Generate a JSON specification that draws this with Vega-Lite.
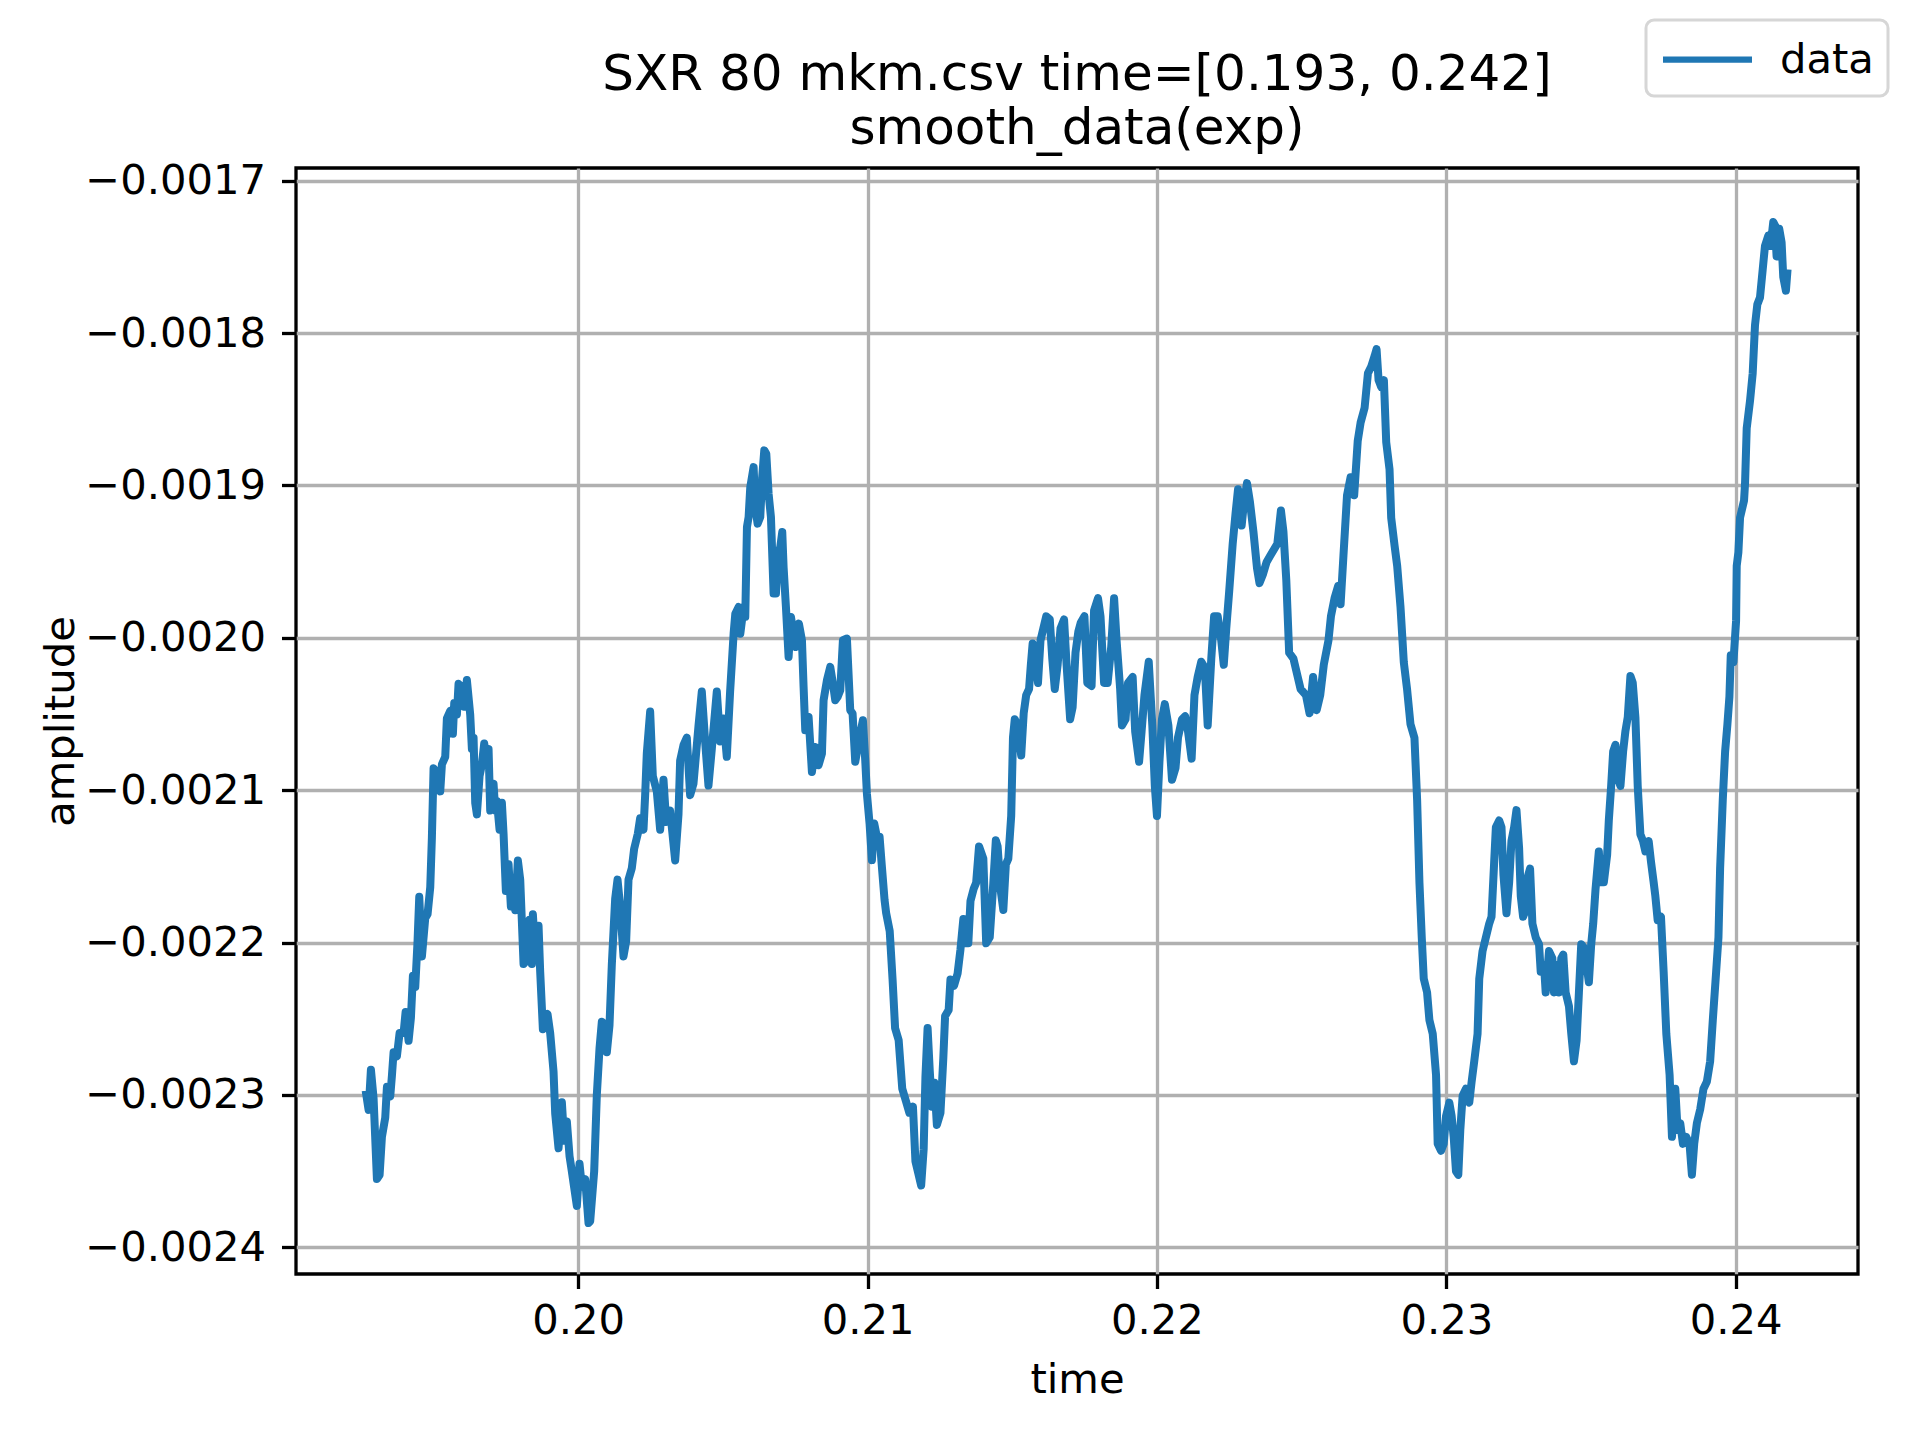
{
  "$schema": "https://vega.github.io/schema/vega-lite/v6.json",
  "autosize": "none",
  "padding": {"left": 296, "top": 168, "right": 53, "bottom": 156},
  "width": 1562,
  "height": 1106,
  "background": "white",
  "title": {
    "text": ["SXR 80 mkm.csv time=[0.193, 0.242]", "smooth_data(exp)"],
    "fontSize": 50,
    "fontWeight": "normal",
    "font": "DejaVu Sans",
    "color": "black",
    "anchor": "middle",
    "lineHeight": 54.4,
    "baseline": "top",
    "offset": 6,
    "dy": 142
  },
  "config": {
    "font": "DejaVu Sans",
    "view": {"stroke": "black", "strokeWidth": 3.3},
    "legend": {"strokeWidth": 3},
    "axis": {
      "domain": false,
      "grid": true,
      "gridColor": "#b0b0b0",
      "gridWidth": 3.3,
      "gridOpacity": 1,
      "tickColor": "black",
      "tickWidth": 3.3,
      "tickSize": 14.5,
      "labelFont": "DejaVu Sans",
      "labelFontSize": 41.7,
      "labelColor": "black",
      "labelLimit": 0,
      "titleFont": "DejaVu Sans",
      "titleFontSize": 41.7,
      "titleFontWeight": "normal",
      "titleColor": "black"
    }
  },
  "data": {
    "values": [
      {"time": 0.192677, "amplitude": -0.0022997},
      {"time": 0.192758, "amplitude": -0.0023098},
      {"time": 0.192838, "amplitude": -0.0022834},
      {"time": 0.192930, "amplitude": -0.0023023},
      {"time": 0.193045, "amplitude": -0.0023552},
      {"time": 0.193138, "amplitude": -0.0023526},
      {"time": 0.193218, "amplitude": -0.0023275},
      {"time": 0.193333, "amplitude": -0.0023149},
      {"time": 0.193391, "amplitude": -0.0022947},
      {"time": 0.193506, "amplitude": -0.0023010},
      {"time": 0.193564, "amplitude": -0.0022872},
      {"time": 0.193621, "amplitude": -0.0022720},
      {"time": 0.193736, "amplitude": -0.0022746},
      {"time": 0.193828, "amplitude": -0.0022594},
      {"time": 0.193967, "amplitude": -0.0022594},
      {"time": 0.194036, "amplitude": -0.0022456},
      {"time": 0.194139, "amplitude": -0.0022645},
      {"time": 0.194220, "amplitude": -0.0022494},
      {"time": 0.194289, "amplitude": -0.0022217},
      {"time": 0.194370, "amplitude": -0.0022292},
      {"time": 0.194450, "amplitude": -0.0021990},
      {"time": 0.194508, "amplitude": -0.0021700},
      {"time": 0.194600, "amplitude": -0.0022091},
      {"time": 0.194715, "amplitude": -0.0021839},
      {"time": 0.194796, "amplitude": -0.0021814},
      {"time": 0.194888, "amplitude": -0.0021637},
      {"time": 0.194945, "amplitude": -0.0021310},
      {"time": 0.195003, "amplitude": -0.0020856},
      {"time": 0.195118, "amplitude": -0.0020882},
      {"time": 0.195233, "amplitude": -0.0021008},
      {"time": 0.195291, "amplitude": -0.0020831},
      {"time": 0.195406, "amplitude": -0.0020781},
      {"time": 0.195463, "amplitude": -0.0020529},
      {"time": 0.195579, "amplitude": -0.0020479},
      {"time": 0.195671, "amplitude": -0.0020630},
      {"time": 0.195717, "amplitude": -0.0020428},
      {"time": 0.195809, "amplitude": -0.0020504},
      {"time": 0.195866, "amplitude": -0.0020302},
      {"time": 0.195982, "amplitude": -0.0020327},
      {"time": 0.196062, "amplitude": -0.0020453},
      {"time": 0.196154, "amplitude": -0.0020277},
      {"time": 0.196269, "amplitude": -0.0020504},
      {"time": 0.196327, "amplitude": -0.0020730},
      {"time": 0.196385, "amplitude": -0.0020655},
      {"time": 0.196442, "amplitude": -0.0021083},
      {"time": 0.196500, "amplitude": -0.0021159},
      {"time": 0.196592, "amplitude": -0.0020907},
      {"time": 0.196672, "amplitude": -0.0020831},
      {"time": 0.196753, "amplitude": -0.0020693},
      {"time": 0.196845, "amplitude": -0.0020831},
      {"time": 0.196903, "amplitude": -0.0020730},
      {"time": 0.196960, "amplitude": -0.0021134},
      {"time": 0.197075, "amplitude": -0.0020957},
      {"time": 0.197133, "amplitude": -0.0021134},
      {"time": 0.197191, "amplitude": -0.0021071},
      {"time": 0.197283, "amplitude": -0.0021259},
      {"time": 0.197363, "amplitude": -0.0021083},
      {"time": 0.197421, "amplitude": -0.0021285},
      {"time": 0.197501, "amplitude": -0.0021662},
      {"time": 0.197594, "amplitude": -0.0021486},
      {"time": 0.197674, "amplitude": -0.0021763},
      {"time": 0.197766, "amplitude": -0.0021662},
      {"time": 0.197824, "amplitude": -0.0021788},
      {"time": 0.197916, "amplitude": -0.0021461},
      {"time": 0.197997, "amplitude": -0.0021587},
      {"time": 0.198112, "amplitude": -0.0022141},
      {"time": 0.198227, "amplitude": -0.0022116},
      {"time": 0.198319, "amplitude": -0.0021851},
      {"time": 0.198400, "amplitude": -0.0022141},
      {"time": 0.198434, "amplitude": -0.0021814},
      {"time": 0.198515, "amplitude": -0.0022066},
      {"time": 0.198595, "amplitude": -0.0021965},
      {"time": 0.198630, "amplitude": -0.0021889},
      {"time": 0.198687, "amplitude": -0.0022191},
      {"time": 0.198780, "amplitude": -0.0022569},
      {"time": 0.198860, "amplitude": -0.0022494},
      {"time": 0.198941, "amplitude": -0.0022469},
      {"time": 0.199033, "amplitude": -0.0022594},
      {"time": 0.199148, "amplitude": -0.0022846},
      {"time": 0.199206, "amplitude": -0.0023123},
      {"time": 0.199321, "amplitude": -0.0023350},
      {"time": 0.199436, "amplitude": -0.0023048},
      {"time": 0.199516, "amplitude": -0.0023300},
      {"time": 0.199609, "amplitude": -0.0023174},
      {"time": 0.199701, "amplitude": -0.0023401},
      {"time": 0.199781, "amplitude": -0.0023501},
      {"time": 0.199954, "amplitude": -0.0023728},
      {"time": 0.200046, "amplitude": -0.0023451},
      {"time": 0.200127, "amplitude": -0.0023602},
      {"time": 0.200242, "amplitude": -0.0023552},
      {"time": 0.200357, "amplitude": -0.0023841},
      {"time": 0.200415, "amplitude": -0.0023829},
      {"time": 0.200553, "amplitude": -0.0023501},
      {"time": 0.200645, "amplitude": -0.0022997},
      {"time": 0.200737, "amplitude": -0.0022695},
      {"time": 0.200818, "amplitude": -0.0022519},
      {"time": 0.200933, "amplitude": -0.0022544},
      {"time": 0.200990, "amplitude": -0.0022720},
      {"time": 0.201082, "amplitude": -0.0022544},
      {"time": 0.201163, "amplitude": -0.0022141},
      {"time": 0.201278, "amplitude": -0.0021713},
      {"time": 0.201359, "amplitude": -0.0021587},
      {"time": 0.201451, "amplitude": -0.0021763},
      {"time": 0.201566, "amplitude": -0.0022091},
      {"time": 0.201658, "amplitude": -0.0021990},
      {"time": 0.201739, "amplitude": -0.0021587},
      {"time": 0.201854, "amplitude": -0.0021511},
      {"time": 0.201934, "amplitude": -0.0021385},
      {"time": 0.202061, "amplitude": -0.0021285},
      {"time": 0.202142, "amplitude": -0.0021184},
      {"time": 0.202257, "amplitude": -0.0021259},
      {"time": 0.202314, "amplitude": -0.0021033},
      {"time": 0.202372, "amplitude": -0.0020756},
      {"time": 0.202487, "amplitude": -0.0020484},
      {"time": 0.202579, "amplitude": -0.0020907},
      {"time": 0.202717, "amplitude": -0.0021008},
      {"time": 0.202832, "amplitude": -0.0021259},
      {"time": 0.202948, "amplitude": -0.0020932},
      {"time": 0.203040, "amplitude": -0.0021209},
      {"time": 0.203178, "amplitude": -0.0021134},
      {"time": 0.203351, "amplitude": -0.0021461},
      {"time": 0.203466, "amplitude": -0.0021159},
      {"time": 0.203523, "amplitude": -0.0020806},
      {"time": 0.203638, "amplitude": -0.0020705},
      {"time": 0.203754, "amplitude": -0.0020655},
      {"time": 0.203869, "amplitude": -0.0021033},
      {"time": 0.203984, "amplitude": -0.0020957},
      {"time": 0.204157, "amplitude": -0.0020579},
      {"time": 0.204272, "amplitude": -0.0020353},
      {"time": 0.204387, "amplitude": -0.0020680},
      {"time": 0.204502, "amplitude": -0.0020970},
      {"time": 0.204617, "amplitude": -0.0020730},
      {"time": 0.204790, "amplitude": -0.0020353},
      {"time": 0.204905, "amplitude": -0.0020680},
      {"time": 0.205020, "amplitude": -0.0020529},
      {"time": 0.205135, "amplitude": -0.0020781},
      {"time": 0.205250, "amplitude": -0.0020353},
      {"time": 0.205371, "amplitude": -0.0019973},
      {"time": 0.205429, "amplitude": -0.0019842},
      {"time": 0.205544, "amplitude": -0.0019798},
      {"time": 0.205602, "amplitude": -0.0019973},
      {"time": 0.205717, "amplitude": -0.0019798},
      {"time": 0.205774, "amplitude": -0.0019863},
      {"time": 0.205832, "amplitude": -0.0019273},
      {"time": 0.205889, "amplitude": -0.0019208},
      {"time": 0.205947, "amplitude": -0.0019011},
      {"time": 0.206062, "amplitude": -0.0018880},
      {"time": 0.206120, "amplitude": -0.0019142},
      {"time": 0.206200, "amplitude": -0.0019251},
      {"time": 0.206292, "amplitude": -0.0019208},
      {"time": 0.206350, "amplitude": -0.0018967},
      {"time": 0.206431, "amplitude": -0.0018770},
      {"time": 0.206500, "amplitude": -0.0018792},
      {"time": 0.206580, "amplitude": -0.0019055},
      {"time": 0.206661, "amplitude": -0.0019208},
      {"time": 0.206753, "amplitude": -0.0019710},
      {"time": 0.206834, "amplitude": -0.0019710},
      {"time": 0.206903, "amplitude": -0.0019448},
      {"time": 0.206983, "amplitude": -0.0019404},
      {"time": 0.207052, "amplitude": -0.0019306},
      {"time": 0.207098, "amplitude": -0.0019536},
      {"time": 0.207179, "amplitude": -0.0019798},
      {"time": 0.207271, "amplitude": -0.0020126},
      {"time": 0.207352, "amplitude": -0.0019863},
      {"time": 0.207444, "amplitude": -0.0019973},
      {"time": 0.207524, "amplitude": -0.0020060},
      {"time": 0.207628, "amplitude": -0.0019907},
      {"time": 0.207732, "amplitude": -0.0020016},
      {"time": 0.207789, "amplitude": -0.0020322},
      {"time": 0.207847, "amplitude": -0.0020607},
      {"time": 0.207962, "amplitude": -0.0020519},
      {"time": 0.208077, "amplitude": -0.0020880},
      {"time": 0.208192, "amplitude": -0.0020716},
      {"time": 0.208307, "amplitude": -0.0020836},
      {"time": 0.208423, "amplitude": -0.0020760},
      {"time": 0.208480, "amplitude": -0.0020410},
      {"time": 0.208595, "amplitude": -0.0020279},
      {"time": 0.208710, "amplitude": -0.0020191},
      {"time": 0.208803, "amplitude": -0.0020301},
      {"time": 0.208883, "amplitude": -0.0020410},
      {"time": 0.208964, "amplitude": -0.0020388},
      {"time": 0.209056, "amplitude": -0.0020344},
      {"time": 0.209148, "amplitude": -0.0020016},
      {"time": 0.209286, "amplitude": -0.0020005},
      {"time": 0.209401, "amplitude": -0.0020475},
      {"time": 0.209482, "amplitude": -0.0020497},
      {"time": 0.209574, "amplitude": -0.0020814},
      {"time": 0.209666, "amplitude": -0.0020716},
      {"time": 0.209747, "amplitude": -0.0020628},
      {"time": 0.209839, "amplitude": -0.0020541},
      {"time": 0.209919, "amplitude": -0.0020803},
      {"time": 0.209977, "amplitude": -0.0021022},
      {"time": 0.210069, "amplitude": -0.0021219},
      {"time": 0.210150, "amplitude": -0.0021459},
      {"time": 0.210230, "amplitude": -0.0021219},
      {"time": 0.210322, "amplitude": -0.0021306},
      {"time": 0.210415, "amplitude": -0.0021306},
      {"time": 0.210495, "amplitude": -0.0021503},
      {"time": 0.210587, "amplitude": -0.0021721},
      {"time": 0.210642, "amplitude": -0.0021806},
      {"time": 0.210765, "amplitude": -0.0021925},
      {"time": 0.210864, "amplitude": -0.0022243},
      {"time": 0.210951, "amplitude": -0.0022561},
      {"time": 0.211074, "amplitude": -0.0022640},
      {"time": 0.211198, "amplitude": -0.0022958},
      {"time": 0.211321, "amplitude": -0.0023038},
      {"time": 0.211444, "amplitude": -0.0023117},
      {"time": 0.211568, "amplitude": -0.0023077},
      {"time": 0.211654, "amplitude": -0.0023435},
      {"time": 0.211753, "amplitude": -0.0023515},
      {"time": 0.211852, "amplitude": -0.0023594},
      {"time": 0.211938, "amplitude": -0.0023356},
      {"time": 0.212000, "amplitude": -0.0022879},
      {"time": 0.212074, "amplitude": -0.0022561},
      {"time": 0.212148, "amplitude": -0.0022839},
      {"time": 0.212222, "amplitude": -0.0023077},
      {"time": 0.212309, "amplitude": -0.0022919},
      {"time": 0.212395, "amplitude": -0.0023197},
      {"time": 0.212519, "amplitude": -0.0023117},
      {"time": 0.212617, "amplitude": -0.0022760},
      {"time": 0.212679, "amplitude": -0.0022482},
      {"time": 0.212802, "amplitude": -0.0022442},
      {"time": 0.212864, "amplitude": -0.0022243},
      {"time": 0.212988, "amplitude": -0.0022283},
      {"time": 0.213111, "amplitude": -0.0022203},
      {"time": 0.213210, "amplitude": -0.0022045},
      {"time": 0.213309, "amplitude": -0.0021846},
      {"time": 0.213383, "amplitude": -0.0022005},
      {"time": 0.213481, "amplitude": -0.0022005},
      {"time": 0.213556, "amplitude": -0.0021727},
      {"time": 0.213667, "amplitude": -0.0021647},
      {"time": 0.213753, "amplitude": -0.0021607},
      {"time": 0.213852, "amplitude": -0.0021369},
      {"time": 0.214000, "amplitude": -0.0021449},
      {"time": 0.214099, "amplitude": -0.0022005},
      {"time": 0.214222, "amplitude": -0.0021965},
      {"time": 0.214346, "amplitude": -0.0021607},
      {"time": 0.214432, "amplitude": -0.0021329},
      {"time": 0.214494, "amplitude": -0.0021369},
      {"time": 0.214593, "amplitude": -0.0021647},
      {"time": 0.214691, "amplitude": -0.0021786},
      {"time": 0.214778, "amplitude": -0.0021488},
      {"time": 0.214864, "amplitude": -0.0021449},
      {"time": 0.214963, "amplitude": -0.0021170},
      {"time": 0.215025, "amplitude": -0.0020654},
      {"time": 0.215086, "amplitude": -0.0020535},
      {"time": 0.215185, "amplitude": -0.0020575},
      {"time": 0.215309, "amplitude": -0.0020773},
      {"time": 0.215395, "amplitude": -0.0020495},
      {"time": 0.215481, "amplitude": -0.0020376},
      {"time": 0.215580, "amplitude": -0.0020336},
      {"time": 0.215642, "amplitude": -0.0020177},
      {"time": 0.215704, "amplitude": -0.0020038},
      {"time": 0.215802, "amplitude": -0.0020137},
      {"time": 0.215889, "amplitude": -0.0020296},
      {"time": 0.215975, "amplitude": -0.0020018},
      {"time": 0.216074, "amplitude": -0.0019939},
      {"time": 0.216173, "amplitude": -0.0019859},
      {"time": 0.216296, "amplitude": -0.0019879},
      {"time": 0.216383, "amplitude": -0.0020137},
      {"time": 0.216469, "amplitude": -0.0020336},
      {"time": 0.216568, "amplitude": -0.0020177},
      {"time": 0.216667, "amplitude": -0.0019939},
      {"time": 0.216790, "amplitude": -0.0019879},
      {"time": 0.216877, "amplitude": -0.0020177},
      {"time": 0.217000, "amplitude": -0.0020535},
      {"time": 0.217086, "amplitude": -0.0020455},
      {"time": 0.217185, "amplitude": -0.0020098},
      {"time": 0.217284, "amplitude": -0.0019959},
      {"time": 0.217370, "amplitude": -0.0019899},
      {"time": 0.217494, "amplitude": -0.0019859},
      {"time": 0.217593, "amplitude": -0.0020296},
      {"time": 0.217741, "amplitude": -0.0020316},
      {"time": 0.217827, "amplitude": -0.0019820},
      {"time": 0.217963, "amplitude": -0.0019740},
      {"time": 0.218049, "amplitude": -0.0019859},
      {"time": 0.218173, "amplitude": -0.0020296},
      {"time": 0.218296, "amplitude": -0.0020296},
      {"time": 0.218420, "amplitude": -0.0020058},
      {"time": 0.218519, "amplitude": -0.0019740},
      {"time": 0.218605, "amplitude": -0.0020018},
      {"time": 0.218728, "amplitude": -0.0020336},
      {"time": 0.218790, "amplitude": -0.0020575},
      {"time": 0.218914, "amplitude": -0.0020535},
      {"time": 0.219000, "amplitude": -0.0020296},
      {"time": 0.219160, "amplitude": -0.0020257},
      {"time": 0.219247, "amplitude": -0.0020614},
      {"time": 0.219383, "amplitude": -0.0020813},
      {"time": 0.219469, "amplitude": -0.0020614},
      {"time": 0.219568, "amplitude": -0.0020376},
      {"time": 0.219716, "amplitude": -0.0020157},
      {"time": 0.219840, "amplitude": -0.0020575},
      {"time": 0.219926, "amplitude": -0.0020972},
      {"time": 0.220000, "amplitude": -0.0021170},
      {"time": 0.220086, "amplitude": -0.0020813},
      {"time": 0.220173, "amplitude": -0.0020535},
      {"time": 0.220272, "amplitude": -0.0020435},
      {"time": 0.220395, "amplitude": -0.0020575},
      {"time": 0.220519, "amplitude": -0.0020932},
      {"time": 0.220642, "amplitude": -0.0020853},
      {"time": 0.220728, "amplitude": -0.0020654},
      {"time": 0.220864, "amplitude": -0.0020535},
      {"time": 0.220975, "amplitude": -0.0020515},
      {"time": 0.221074, "amplitude": -0.0020614},
      {"time": 0.221198, "amplitude": -0.0020793},
      {"time": 0.221296, "amplitude": -0.0020376},
      {"time": 0.221407, "amplitude": -0.0020257},
      {"time": 0.221531, "amplitude": -0.0020157},
      {"time": 0.221654, "amplitude": -0.0020197},
      {"time": 0.221753, "amplitude": -0.0020575},
      {"time": 0.221877, "amplitude": -0.0020137},
      {"time": 0.221975, "amplitude": -0.0019859},
      {"time": 0.222099, "amplitude": -0.0019859},
      {"time": 0.222222, "amplitude": -0.0020018},
      {"time": 0.222309, "amplitude": -0.0020177},
      {"time": 0.222395, "amplitude": -0.0019939},
      {"time": 0.222494, "amplitude": -0.0019700},
      {"time": 0.222617, "amplitude": -0.0019383},
      {"time": 0.222716, "amplitude": -0.0019184},
      {"time": 0.222802, "amplitude": -0.0019025},
      {"time": 0.222926, "amplitude": -0.0019263},
      {"time": 0.223012, "amplitude": -0.0019104},
      {"time": 0.223111, "amplitude": -0.0018985},
      {"time": 0.223210, "amplitude": -0.0019104},
      {"time": 0.223333, "amplitude": -0.0019303},
      {"time": 0.223457, "amplitude": -0.0019542},
      {"time": 0.223543, "amplitude": -0.0019641},
      {"time": 0.223667, "amplitude": -0.0019581},
      {"time": 0.223790, "amplitude": -0.0019502},
      {"time": 0.223914, "amplitude": -0.0019462},
      {"time": 0.224037, "amplitude": -0.0019422},
      {"time": 0.224160, "amplitude": -0.0019383},
      {"time": 0.224284, "amplitude": -0.0019164},
      {"time": 0.224370, "amplitude": -0.0019303},
      {"time": 0.224469, "amplitude": -0.0019621},
      {"time": 0.224568, "amplitude": -0.0020098},
      {"time": 0.224716, "amplitude": -0.0020137},
      {"time": 0.224864, "amplitude": -0.0020257},
      {"time": 0.224963, "amplitude": -0.0020336},
      {"time": 0.225148, "amplitude": -0.0020376},
      {"time": 0.225272, "amplitude": -0.0020495},
      {"time": 0.225395, "amplitude": -0.0020257},
      {"time": 0.225519, "amplitude": -0.0020475},
      {"time": 0.225642, "amplitude": -0.0020376},
      {"time": 0.225765, "amplitude": -0.0020177},
      {"time": 0.225926, "amplitude": -0.0020018},
      {"time": 0.226012, "amplitude": -0.0019859},
      {"time": 0.226136, "amplitude": -0.0019740},
      {"time": 0.226259, "amplitude": -0.0019661},
      {"time": 0.226346, "amplitude": -0.0019780},
      {"time": 0.226444, "amplitude": -0.0019462},
      {"time": 0.226568, "amplitude": -0.0019065},
      {"time": 0.226691, "amplitude": -0.0018946},
      {"time": 0.226815, "amplitude": -0.0019065},
      {"time": 0.226938, "amplitude": -0.0018707},
      {"time": 0.227037, "amplitude": -0.0018588},
      {"time": 0.227176, "amplitude": -0.0018490},
      {"time": 0.227290, "amplitude": -0.0018264},
      {"time": 0.227405, "amplitude": -0.0018219},
      {"time": 0.227520, "amplitude": -0.0018151},
      {"time": 0.227589, "amplitude": -0.0018106},
      {"time": 0.227658, "amplitude": -0.0018309},
      {"time": 0.227750, "amplitude": -0.0018354},
      {"time": 0.227842, "amplitude": -0.0018309},
      {"time": 0.227922, "amplitude": -0.0018716},
      {"time": 0.228037, "amplitude": -0.0018896},
      {"time": 0.228094, "amplitude": -0.0019212},
      {"time": 0.228209, "amplitude": -0.0019393},
      {"time": 0.228301, "amplitude": -0.0019528},
      {"time": 0.228416, "amplitude": -0.0019799},
      {"time": 0.228530, "amplitude": -0.0020160},
      {"time": 0.228645, "amplitude": -0.0020341},
      {"time": 0.228760, "amplitude": -0.0020567},
      {"time": 0.228898, "amplitude": -0.0020657},
      {"time": 0.228990, "amplitude": -0.0021063},
      {"time": 0.229070, "amplitude": -0.0021605},
      {"time": 0.229150, "amplitude": -0.0021966},
      {"time": 0.229219, "amplitude": -0.0022237},
      {"time": 0.229334, "amplitude": -0.0022327},
      {"time": 0.229414, "amplitude": -0.0022508},
      {"time": 0.229529, "amplitude": -0.0022598},
      {"time": 0.229644, "amplitude": -0.0022869},
      {"time": 0.229701, "amplitude": -0.0023321},
      {"time": 0.229816, "amplitude": -0.0023366},
      {"time": 0.229908, "amplitude": -0.0023321},
      {"time": 0.229989, "amplitude": -0.0023140},
      {"time": 0.230103, "amplitude": -0.0023050},
      {"time": 0.230184, "amplitude": -0.0023140},
      {"time": 0.230253, "amplitude": -0.0023275},
      {"time": 0.230333, "amplitude": -0.0023501},
      {"time": 0.230413, "amplitude": -0.0023524},
      {"time": 0.230482, "amplitude": -0.0023230},
      {"time": 0.230563, "amplitude": -0.0023005},
      {"time": 0.230677, "amplitude": -0.0022959},
      {"time": 0.230792, "amplitude": -0.0023050},
      {"time": 0.230873, "amplitude": -0.0022914},
      {"time": 0.230964, "amplitude": -0.0022779},
      {"time": 0.231079, "amplitude": -0.0022598},
      {"time": 0.231137, "amplitude": -0.0022237},
      {"time": 0.231251, "amplitude": -0.0022056},
      {"time": 0.231366, "amplitude": -0.0021966},
      {"time": 0.231481, "amplitude": -0.0021876},
      {"time": 0.231561, "amplitude": -0.0021831},
      {"time": 0.231653, "amplitude": -0.0021470},
      {"time": 0.231711, "amplitude": -0.0021244},
      {"time": 0.231826, "amplitude": -0.0021199},
      {"time": 0.231906, "amplitude": -0.0021244},
      {"time": 0.231975, "amplitude": -0.0021560},
      {"time": 0.232078, "amplitude": -0.0021808},
      {"time": 0.232170, "amplitude": -0.0021605},
      {"time": 0.232250, "amplitude": -0.0021334},
      {"time": 0.232342, "amplitude": -0.0021244},
      {"time": 0.232423, "amplitude": -0.0021131},
      {"time": 0.232514, "amplitude": -0.0021379},
      {"time": 0.232572, "amplitude": -0.0021695},
      {"time": 0.232652, "amplitude": -0.0021831},
      {"time": 0.232744, "amplitude": -0.0021786},
      {"time": 0.232824, "amplitude": -0.0021560},
      {"time": 0.232893, "amplitude": -0.0021515},
      {"time": 0.232974, "amplitude": -0.0021876},
      {"time": 0.233088, "amplitude": -0.0021966},
      {"time": 0.233203, "amplitude": -0.0022011},
      {"time": 0.233261, "amplitude": -0.0022192},
      {"time": 0.233375, "amplitude": -0.0022147},
      {"time": 0.233433, "amplitude": -0.0022327},
      {"time": 0.233548, "amplitude": -0.0022056},
      {"time": 0.233662, "amplitude": -0.0022102},
      {"time": 0.233720, "amplitude": -0.0022327},
      {"time": 0.233812, "amplitude": -0.0022147},
      {"time": 0.233892, "amplitude": -0.0022327},
      {"time": 0.233972, "amplitude": -0.0022102},
      {"time": 0.234041, "amplitude": -0.0022079},
      {"time": 0.234122, "amplitude": -0.0022327},
      {"time": 0.234237, "amplitude": -0.0022418},
      {"time": 0.234317, "amplitude": -0.0022598},
      {"time": 0.234409, "amplitude": -0.0022779},
      {"time": 0.234501, "amplitude": -0.0022643},
      {"time": 0.234581, "amplitude": -0.0022327},
      {"time": 0.234661, "amplitude": -0.0022011},
      {"time": 0.234753, "amplitude": -0.0022034},
      {"time": 0.234845, "amplitude": -0.0022147},
      {"time": 0.234925, "amplitude": -0.0022260},
      {"time": 0.235006, "amplitude": -0.0022011},
      {"time": 0.235075, "amplitude": -0.0021876},
      {"time": 0.235155, "amplitude": -0.0021650},
      {"time": 0.235270, "amplitude": -0.0021402},
      {"time": 0.235327, "amplitude": -0.0021605},
      {"time": 0.235442, "amplitude": -0.0021605},
      {"time": 0.235557, "amplitude": -0.0021424},
      {"time": 0.235614, "amplitude": -0.0021199},
      {"time": 0.235695, "amplitude": -0.0020973},
      {"time": 0.235764, "amplitude": -0.0020747},
      {"time": 0.235844, "amplitude": -0.0020702},
      {"time": 0.235936, "amplitude": -0.0020928},
      {"time": 0.236016, "amplitude": -0.0020973},
      {"time": 0.236108, "amplitude": -0.0020747},
      {"time": 0.236188, "amplitude": -0.0020612},
      {"time": 0.236269, "amplitude": -0.0020521},
      {"time": 0.236361, "amplitude": -0.0020251},
      {"time": 0.236441, "amplitude": -0.0020296},
      {"time": 0.236533, "amplitude": -0.0020521},
      {"time": 0.236613, "amplitude": -0.0020973},
      {"time": 0.236705, "amplitude": -0.0021289},
      {"time": 0.236797, "amplitude": -0.0021334},
      {"time": 0.236877, "amplitude": -0.0021402},
      {"time": 0.236992, "amplitude": -0.0021334},
      {"time": 0.237072, "amplitude": -0.0021470},
      {"time": 0.237164, "amplitude": -0.0021605},
      {"time": 0.237222, "amplitude": -0.0021695},
      {"time": 0.237302, "amplitude": -0.0021853},
      {"time": 0.237417, "amplitude": -0.0021831},
      {"time": 0.237509, "amplitude": -0.0022192},
      {"time": 0.237601, "amplitude": -0.0022598},
      {"time": 0.237715, "amplitude": -0.0022869},
      {"time": 0.237796, "amplitude": -0.0023275},
      {"time": 0.237911, "amplitude": -0.0022959},
      {"time": 0.237991, "amplitude": -0.0023230},
      {"time": 0.238083, "amplitude": -0.0023185},
      {"time": 0.238175, "amplitude": -0.0023321},
      {"time": 0.238289, "amplitude": -0.0023275},
      {"time": 0.238404, "amplitude": -0.0023321},
      {"time": 0.238485, "amplitude": -0.0023524},
      {"time": 0.238565, "amplitude": -0.0023321},
      {"time": 0.238657, "amplitude": -0.0023185},
      {"time": 0.238772, "amplitude": -0.0023095},
      {"time": 0.238886, "amplitude": -0.0022959},
      {"time": 0.239001, "amplitude": -0.0022914},
      {"time": 0.239116, "amplitude": -0.0022779},
      {"time": 0.239208, "amplitude": -0.0022508},
      {"time": 0.239323, "amplitude": -0.0022192},
      {"time": 0.239403, "amplitude": -0.0021966},
      {"time": 0.239460, "amplitude": -0.0021515},
      {"time": 0.239552, "amplitude": -0.0021063},
      {"time": 0.239633, "amplitude": -0.0020747},
      {"time": 0.239713, "amplitude": -0.0020567},
      {"time": 0.239782, "amplitude": -0.0020386},
      {"time": 0.239828, "amplitude": -0.0020115},
      {"time": 0.239920, "amplitude": -0.0020160},
      {"time": 0.240012, "amplitude": -0.0019889},
      {"time": 0.240034, "amplitude": -0.0019528},
      {"time": 0.240092, "amplitude": -0.0019438},
      {"time": 0.240149, "amplitude": -0.0019212},
      {"time": 0.240287, "amplitude": -0.0019099},
      {"time": 0.240322, "amplitude": -0.0018986},
      {"time": 0.240379, "amplitude": -0.0018625},
      {"time": 0.240494, "amplitude": -0.0018445},
      {"time": 0.240586, "amplitude": -0.0018264},
      {"time": 0.240666, "amplitude": -0.0017948},
      {"time": 0.240746, "amplitude": -0.0017813},
      {"time": 0.240838, "amplitude": -0.0017767},
      {"time": 0.240930, "amplitude": -0.0017587},
      {"time": 0.241010, "amplitude": -0.0017429},
      {"time": 0.241125, "amplitude": -0.0017361},
      {"time": 0.241206, "amplitude": -0.0017429},
      {"time": 0.241297, "amplitude": -0.0017271},
      {"time": 0.241355, "amplitude": -0.0017293},
      {"time": 0.241412, "amplitude": -0.0017497},
      {"time": 0.241504, "amplitude": -0.0017316},
      {"time": 0.241585, "amplitude": -0.0017406},
      {"time": 0.241642, "amplitude": -0.0017632},
      {"time": 0.241734, "amplitude": -0.0017722},
      {"time": 0.241780, "amplitude": -0.0017609}
    ]
  },
  "mark": {
    "type": "line",
    "strokeWidth": 8,
    "strokeJoin": "round",
    "strokeCap": "square",
    "clip": true
  },
  "encoding": {
    "x": {
      "field": "time",
      "type": "quantitative",
      "scale": {"domain": [0.190249, 0.244225], "nice": false, "zero": false},
      "axis": {
        "title": "time",
        "values": [0.20, 0.21, 0.22, 0.23, 0.24],
        "format": ".2f",
        "labelPadding": 12,
        "titlePadding": 17,
        "labelFlush": false
      }
    },
    "y": {
      "field": "amplitude",
      "type": "quantitative",
      "scale": {"domain": [-0.0024175, -0.0016917], "nice": false, "zero": false},
      "axis": {
        "title": "amplitude",
        "values": [-0.0024, -0.0023, -0.0022, -0.0021, -0.002, -0.0019, -0.0018, -0.0017],
        "format": ".4f",
        "labelPadding": 16,
        "titlePadding": 23,
        "titleBaseline": "alphabetic",
        "labelFlush": false
      }
    },
    "color": {
      "datum": "data",
      "type": "nominal",
      "scale": {"range": ["#1f77b4"]},
      "legend": {
        "title": null,
        "orient": "none",
        "legendX": 1350,
        "legendY": -148,
        "symbolType": "M-2,0H2",
        "symbolSize": 1980,
        "symbolStrokeWidth": 6.25,
        "symbolOffset": 22,
        "labelOffset": 47,
        "labelFontSize": 41.7,
        "labelFont": "DejaVu Sans",
        "labelColor": "black",
        "padding": 14,
        "strokeColor": "#d6d6d6",
        "cornerRadius": 8,
        "fillColor": "white"
      }
    }
  }
}
